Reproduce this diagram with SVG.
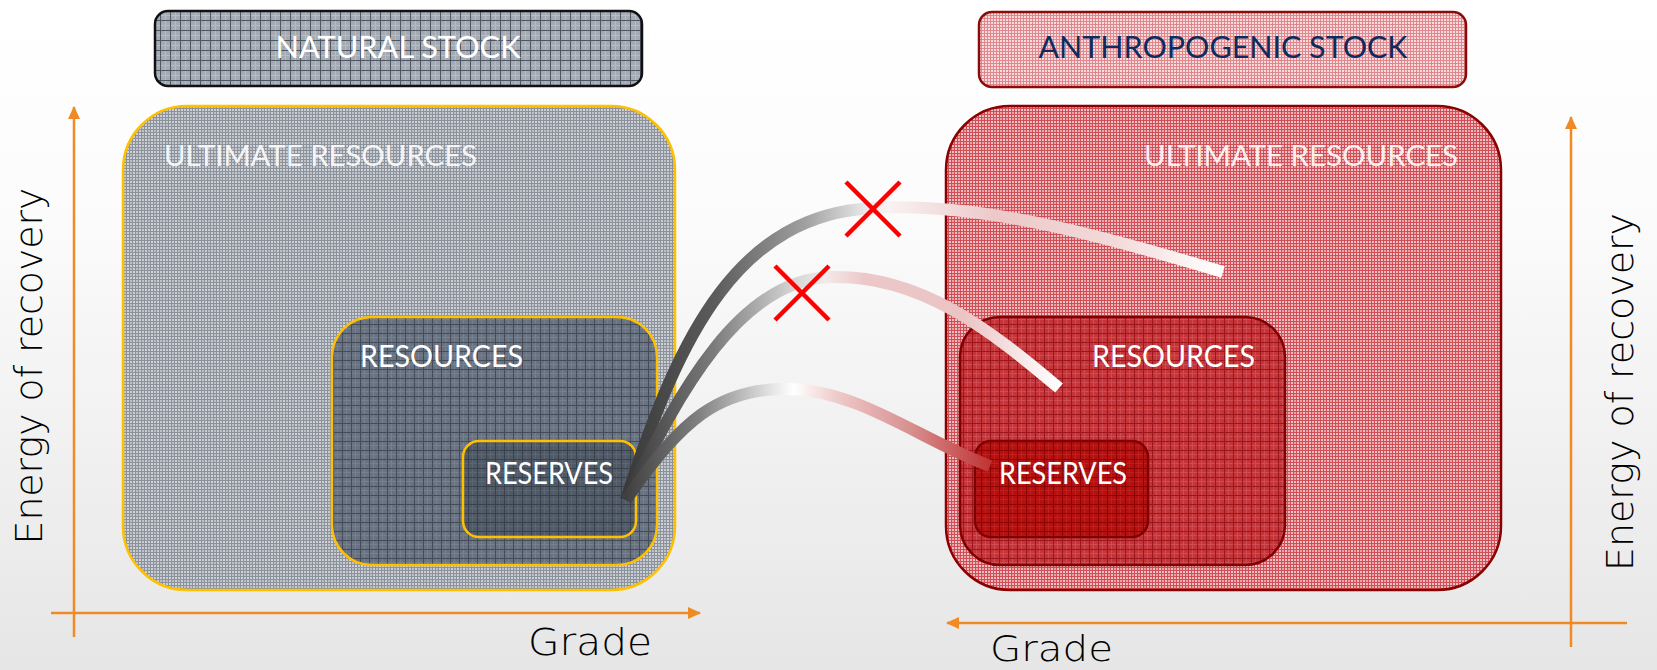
<svg xmlns="http://www.w3.org/2000/svg" width="1657" height="670" viewBox="0 0 1657 670">
<style>
.lbl{font-family:"Lato","Open Sans","Liberation Sans",sans-serif;fill:#FFFFFF;}
.axt{font-family:"DejaVu Sans","Liberation Sans",sans-serif;font-weight:200;fill:#000000;}
.ax{stroke:#F08A24;stroke-width:2.5;fill:none;}
.band{fill:none;stroke-width:12;stroke-linecap:butt;}
.xm{stroke:#FF0000;stroke-width:4.5;stroke-linecap:butt;}
</style>
<defs>
<linearGradient id="bg" x1="0" y1="0" x2="0" y2="1">
<stop offset="0" stop-color="#FFFFFF"/><stop offset="0.3" stop-color="#FCFCFC"/><stop offset="1" stop-color="#E6E6E6"/>
</linearGradient>
<pattern id="fGray" width="6" height="6" patternUnits="userSpaceOnUse"><rect width="6" height="6" fill="#BDC1C7"/><path d="M0 2H6M2 0V6" stroke="#D8DBDF" stroke-width="1"/><path d="M0 0.5H6M0.5 0V6M0 3.5H6M3.5 0V6" stroke="#8C929C" stroke-width="1"/></pattern>
<pattern id="pNat" width="10" height="10" patternUnits="userSpaceOnUse"><rect width="10" height="10" fill="#A5ABB3"/><path d="M0 5.5H10M5.5 0V10" stroke="#B8BDC3" stroke-width="1"/><path d="M0 0.5H10M0.5 0V10" stroke="#4E5664" stroke-width="1"/></pattern>
<pattern id="pRes" width="9" height="9" patternUnits="userSpaceOnUse"><rect width="9" height="9" fill="#687281"/><path d="M0 4.5H9M4.5 0V9" stroke="#76808D" stroke-width="1"/><path d="M0 0.5H9M0.5 0V9" stroke="#434C58" stroke-width="1"/></pattern>
<pattern id="pRsv" width="9" height="9" patternUnits="userSpaceOnUse"><rect width="9" height="9" fill="#505A67"/><path d="M0 4.5H9M4.5 0V9" stroke="#5C6673" stroke-width="1"/><path d="M0 0.5H9M0.5 0V9" stroke="#39414C" stroke-width="1"/></pattern>
<pattern id="fPink" width="6" height="6" patternUnits="userSpaceOnUse"><rect width="6" height="6" fill="#E8A2A6"/><path d="M0 2H6M2 0V6" stroke="#F6D6D8" stroke-width="1"/><path d="M0 0.5H6M0.5 0V6M0 3.5H6M3.5 0V6" stroke="#D24E57" stroke-width="1"/></pattern>
<pattern id="pAnt" width="3" height="3" patternUnits="userSpaceOnUse"><rect width="3" height="3" fill="#F8DADC"/><path d="M0 0.5H3M0.5 0V3" stroke="#E0878E" stroke-width="1"/></pattern>
<pattern id="pRRes" width="9" height="9" patternUnits="userSpaceOnUse"><rect width="9" height="9" fill="#C43439"/><path d="M0 4.5H9M4.5 0V9" stroke="#CE4C52" stroke-width="1"/><path d="M0 0.5H9M0.5 0V9" stroke="#9C161C" stroke-width="1"/></pattern>
<pattern id="pRRsv" width="9" height="9" patternUnits="userSpaceOnUse"><rect width="9" height="9" fill="#B41010"/><path d="M0 4.5H9M4.5 0V9" stroke="#BE2020" stroke-width="1"/><path d="M0 0.5H9M0.5 0V9" stroke="#8E0202" stroke-width="1"/></pattern>
<marker id="ah" viewBox="0 0 13 12" refX="12" refY="6" markerWidth="13" markerHeight="12" markerUnits="userSpaceOnUse" orient="auto"><path d="M0 0L13 6L0 12Z" fill="#F08A24"/></marker>
<linearGradient id="g1" gradientUnits="userSpaceOnUse" x1="626" y1="0" x2="1223" y2="0">
<stop offset="0" stop-color="#3A3A3A"/><stop offset="0.15" stop-color="#5C5C5C"/><stop offset="0.3" stop-color="#A0A0A0"/><stop offset="0.4" stop-color="#E8E8E8"/><stop offset="0.44" stop-color="#F8F2F2"/><stop offset="0.62" stop-color="#EDC8C8"/><stop offset="0.82" stop-color="#F3DADA"/><stop offset="1" stop-color="#FFFFFF"/>
</linearGradient>
<linearGradient id="g2" gradientUnits="userSpaceOnUse" x1="626" y1="0" x2="1059" y2="0">
<stop offset="0" stop-color="#3A3A3A"/><stop offset="0.2" stop-color="#7A7A7A"/><stop offset="0.38" stop-color="#D2D2D2"/><stop offset="0.46" stop-color="#F2EAEA"/><stop offset="0.55" stop-color="#ECC8C8"/><stop offset="0.78" stop-color="#EBC4C4"/><stop offset="1" stop-color="#FFFFFF"/>
</linearGradient>
<linearGradient id="g3" gradientUnits="userSpaceOnUse" x1="626" y1="0" x2="990" y2="0">
<stop offset="0" stop-color="#404040"/><stop offset="0.2" stop-color="#808080"/><stop offset="0.4" stop-color="#E4E4E4"/><stop offset="0.46" stop-color="#FFFFFF"/><stop offset="0.58" stop-color="#EFCACA"/><stop offset="0.78" stop-color="#D89090"/><stop offset="1" stop-color="#C03434"/>
</linearGradient>
</defs>
<rect width="1657" height="670" fill="url(#bg)"/>

<g id="axes-left">
<path class="ax" d="M74 637V107" marker-end="url(#ah)"/>
<path class="ax" d="M51 613H700" marker-end="url(#ah)"/>
<text class="axt" font-size="37" transform="translate(42,366) rotate(-90)" text-anchor="middle" textLength="357" lengthAdjust="spacingAndGlyphs">Energy of recovery</text>
<text class="axt" font-size="38" x="528" y="655" textLength="124" lengthAdjust="spacingAndGlyphs">Grade</text>
</g>
<g id="axes-right">
<path class="ax" d="M1571 647V117" marker-end="url(#ah)"/>
<path class="ax" d="M1627 623H947" marker-end="url(#ah)"/>
<text class="axt" font-size="37" transform="translate(1633,392) rotate(-90)" text-anchor="middle" textLength="358" lengthAdjust="spacingAndGlyphs">Energy of recovery</text>
<text class="axt" font-size="36" x="990" y="661" textLength="123" lengthAdjust="spacingAndGlyphs">Grade</text>
</g>

<g id="natural-stock">
<rect x="155" y="11" width="487" height="75" rx="13" fill="url(#pNat)" stroke="#111111" stroke-width="2.5"/>
<text class="lbl" x="398" y="58" font-size="30" text-anchor="middle" textLength="245" lengthAdjust="spacingAndGlyphs">NATURAL STOCK</text>
</g>
<g id="anthropogenic-stock">
<rect x="979" y="12" width="487" height="75" rx="13" fill="url(#pAnt)" stroke="#8B0A0A" stroke-width="2.5"/>
<text class="lbl" x="1223" y="58" font-size="30" text-anchor="middle" textLength="369" lengthAdjust="spacingAndGlyphs" style="fill:#0F2A5C">ANTHROPOGENIC STOCK</text>
</g>

<g id="natural-ultimate">
<rect x="123" y="106" width="552" height="484" rx="64" fill="url(#fGray)" stroke="#FFC000" stroke-width="2.5"/>
<text class="lbl" x="164" y="166" font-size="28" textLength="313" lengthAdjust="spacingAndGlyphs" fill-opacity="0.9">ULTIMATE RESOURCES</text>
</g>
<g id="natural-resources">
<rect x="332" y="317" width="325" height="248" rx="40" fill="url(#pRes)" stroke="#FFC000" stroke-width="2.5"/>
<text class="lbl" x="360" y="367" font-size="30" textLength="163" lengthAdjust="spacingAndGlyphs">RESOURCES</text>
</g>
<g id="natural-reserves">
<rect x="463" y="441" width="173" height="96" rx="16" fill="url(#pRsv)" stroke="#FFC000" stroke-width="2.5"/>
<text class="lbl" x="485" y="484" font-size="30" textLength="128" lengthAdjust="spacingAndGlyphs">RESERVES</text>
</g>

<g id="anthropogenic-ultimate">
<rect x="946" y="106" width="555" height="484" rx="64" fill="url(#fPink)" stroke="#8B0000" stroke-width="2.5"/>
<text class="lbl" x="1144" y="166" font-size="28" textLength="314" lengthAdjust="spacingAndGlyphs" fill-opacity="0.9">ULTIMATE RESOURCES</text>
</g>
<g id="anthropogenic-resources">
<rect x="960" y="317" width="325" height="248" rx="40" fill="url(#pRRes)" stroke="#7F0000" stroke-width="2.5"/>
<text class="lbl" x="1092" y="367" font-size="30" textLength="163" lengthAdjust="spacingAndGlyphs">RESOURCES</text>
</g>
<g id="anthropogenic-reserves">
<rect x="975" y="441" width="173" height="96" rx="16" fill="url(#pRRsv)" stroke="#7F0000" stroke-width="2.5"/>
<text class="lbl" x="999" y="484" font-size="30" textLength="128" lengthAdjust="spacingAndGlyphs">RESERVES</text>
</g>

<g id="connectors">
<path class="band" stroke="url(#g1)" d="M626 500C680 330 740 215 873 208C980 202 1100 235 1223 272"/>
<path class="band" stroke="url(#g2)" d="M626 500C680 390 740 280 830 277C920 274 990 330 1059 388"/>
<path class="band" stroke="url(#g3)" d="M626 500C680 420 720 388 787 389C860 390 920 440 990 466"/>
<path class="xm" d="M846 182L900 236M900 182L846 236"/>
<path class="xm" d="M775 266L829 320M829 266L775 320"/>
</g>
</svg>
